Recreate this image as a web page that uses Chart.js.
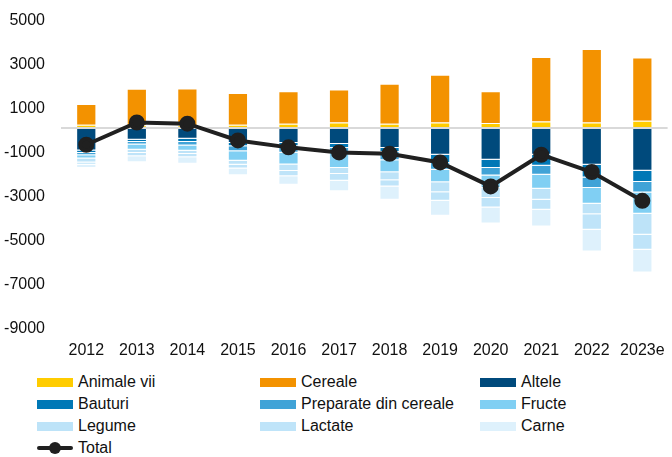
<!DOCTYPE html>
<html>
<head>
<meta charset="utf-8">
<script src="https://cdn.jsdelivr.net/npm/chart.js@4"></script>
<style>
  html, body { margin: 0; padding: 0; background: #fff; overflow: hidden; }
  #wrap { position: relative; width: 672px; height: 457px; overflow: hidden; }
  #chartBox { position: absolute; left: 0; top: 0; width: 680px; height: 360px; }
  #legend { position: absolute; left: 0; top: 371px; width: 672px; font-family: 'Liberation Sans', Arial, sans-serif; font-size: 16px; color: #111; }
  .item { position: absolute; height: 22px; line-height: 22px; white-space: nowrap; }
  .sw { position: absolute; left: 0; top: 7px; width: 36px; height: 9px; }
  .txt { position: absolute; left: 41px; top: 0; }
</style>
</head>
<body>
<div id="wrap">
  <div id="chartBox"><canvas id="balanceChart" width="680" height="360"></canvas></div>
  <div id="legend"></div>
</div>
<script>
var years = ['2012', '2013', '2014', '2015', '2016', '2017', '2018', '2019', '2020', '2021', '2022', '2023e'];

// exporturi nete pe grupe de produse
var animaleVii = [150, 120, 120, 150, 195, 255, 195, 255, 230, 300, 255, 330];
var cereale    = [940, 1660, 1670, 1440, 1470, 1490, 1820, 2170, 1440, 2930, 3340, 2880];
var altele     = [-1020, -530, -490, -680, -680, -730, -910, -1215, -1440, -1215, -1670, -1945];
var bauturi    = [-120, -105, -150, -150, -150, -180, -180, -380, -380, -500, -575, -515];
var preparate  = [-100, -120, -150, -230, -300, -230, -380, -300, -335, -410, -485, -470];
var fructe     = [-150, -230, -240, -425, -530, -680, -545, -575, -575, -635, -715, -970];
var legume     = [-180, -150, -150, -180, -300, -275, -365, -455, -455, -500, -470, -955];
var lactate    = [-100, -150, -150, -180, -230, -300, -275, -380, -425, -455, -715, -680];
var carne      = [-150, -270, -300, -300, -395, -485, -605, -680, -730, -760, -985, -1030];
var total      = [-760, 250, 195, -565, -880, -1110, -1170, -1565, -2655, -1215, -2000, -3310];

var yMin = -9000, yMax = 5000;

var barSeries = [
    { label: 'Animale vii', data: animaleVii, color: '#ffcc00' },
    { label: 'Cereale', data: cereale, color: '#f39200' },
    { label: 'Altele', data: altele, color: '#004a7c' },
    { label: 'Bauturi', data: bauturi, color: '#0078b6' },
    { label: 'Preparate din cereale', data: preparate, color: '#40a3d7' },
    { label: 'Fructe', data: fructe, color: '#80cff3' },
    { label: 'Legume', data: legume, color: '#bde3f8' },
    { label: 'Lactate', data: lactate, color: '#bfe4f9' },
    { label: 'Carne', data: carne, color: '#def1fc' }
];

var datasets = barSeries.map(function (s) {
    return {
        type: 'bar',
        label: s.label,
        data: s.data,
        backgroundColor: s.color,
        borderColor: 'rgba(255,255,255,0.35)',
        borderWidth: 1,
        stack: 'balance',
        order: 2,
        categoryPercentage: 1,
        barPercentage: 0.4
    };
});

datasets.push({
    type: 'line',
    label: 'Total',
    data: total,
    borderColor: '#202020',
    backgroundColor: '#202020',
    borderWidth: 4,
    pointRadius: 6,
    pointHoverRadius: 6,
    tension: 0,
    stack: 'total',
    order: 1
});

Chart.defaults.font.family = "'Liberation Sans', Arial, sans-serif";
Chart.defaults.font.size = 16;
Chart.defaults.color = '#111';

var ctx = document.getElementById('balanceChart').getContext('2d');
var balanceChart = new Chart(ctx, {
    data: { labels: years, datasets: datasets },
    options: {
        responsive: false,
        animation: false,
        devicePixelRatio: 1,
        layout: { padding: { top: 18, right: 4, bottom: 0, left: 0 } },
        plugins: {
            legend: { display: false },
            tooltip: { enabled: false }
        },
        scales: {
            x: {
                stacked: true,
                grid: { display: false, drawTicks: false },
                border: { display: false },
                ticks: { padding: 15, maxRotation: 0, autoSkip: false },
                afterFit: function (scale) { scale.height = 34; }
            },
            y: {
                stacked: true,
                min: yMin,
                max: yMax,
                border: { display: false },
                grid: {
                    drawTicks: false,
                    lineWidth: 2,
                    color: function (c) {
                        return c.tick && c.tick.value === 0 ? '#d9d9d9' : 'rgba(0,0,0,0)';
                    }
                },
                ticks: {
                    stepSize: 1000,
                    autoSkip: false,
                    padding: 16,
                    labelOffset: 3,
                    callback: function (value) {
                        return (value % 2000 !== 0) ? String(value) : '';
                    }
                },
                afterFit: function (scale) {
                    scale.width = 61;
                    scale.paddingTop = 0;
                    scale.paddingBottom = 0;
                }
            }
        }
    }
});

// legenda in trei coloane
var legend = document.getElementById('legend');
var colX = [37, 260, 480];
var rowH = 22;
balanceChart.data.datasets.forEach(function (ds, i) {
    var item = document.createElement('div');
    item.className = 'item';
    var col = i % 3, row = Math.floor(i / 3);
    item.style.left = colX[col] + 'px';
    item.style.top = (row * rowH) + 'px';
    var sw;
    if (ds.type === 'line') {
        sw = document.createElement('div');
        sw.style.cssText = 'position:absolute;left:0;top:9px;width:36px;height:4px;background:' + ds.borderColor + ';border-radius:2px;';
        var dot = document.createElement('div');
        dot.style.cssText = 'position:absolute;left:12px;top:-4px;width:12px;height:12px;border-radius:6px;background:' + ds.borderColor + ';';
        sw.appendChild(dot);
    } else {
        sw = document.createElement('div');
        sw.className = 'sw';
        sw.style.background = ds.backgroundColor;
    }
    var txt = document.createElement('span');
    txt.className = 'txt';
    txt.textContent = ds.label;
    item.appendChild(sw);
    item.appendChild(txt);
    legend.appendChild(item);
});
</script>
</body>
</html>
